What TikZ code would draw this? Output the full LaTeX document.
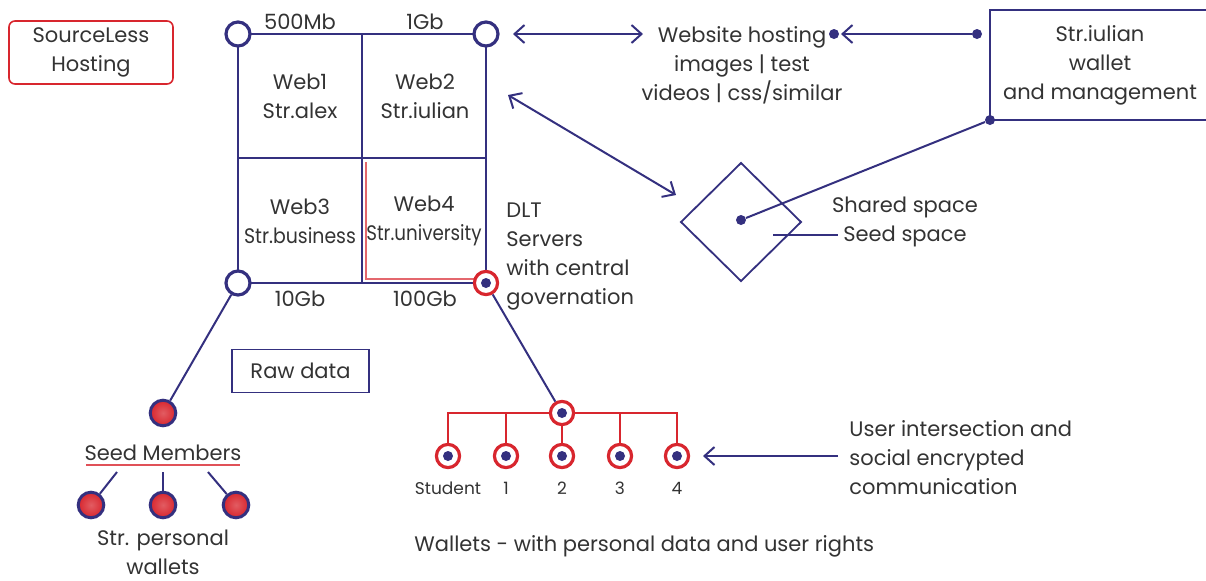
\documentclass[tikz,border=0pt]{standalone}
\usepackage{fontspec}
\setmainfont{Poppins}
\usetikzlibrary{arrows.meta}
\definecolor{navy}{HTML}{34307F}
\definecolor{lred}{HTML}{D8262E}
\definecolor{txt}{HTML}{333333}
\tikzset{
  x=0.5pt, y=-0.5pt,
  every node/.style={text=txt, font=\fontsize{10.5}{14.5}\selectfont, inner sep=0pt},
  ln/.style={draw=navy, line width=1pt},
  rln/.style={draw=lred, line width=0.9pt},
  corner/.style={circle, draw=navy, fill=white, line width=1.6pt, minimum size=12pt},
  wal/.style={circle, draw=lred, fill=white, line width=1.6pt, minimum size=11.6pt},
  dotc/.style={circle, fill=navy, minimum size=5pt},
  seed/.style={circle, draw=navy, line width=1.5pt, inner color=lred!75, outer color=lred, minimum size=12.8pt},
  tip/.style={-{Straight Barb[length=5pt,width=9pt]}},
  tips/.style={{Straight Barb[length=5pt,width=9pt]}-{Straight Barb[length=5pt,width=9pt]}},
  ptd/.style={circle, fill=navy, minimum size=5pt},
  lab/.style={align=center},
  small/.style={font=\fontsize{8.5}{10}\selectfont}
}
\begin{document}
\begin{tikzpicture}
\useasboundingbox (0,0) rectangle (1206,580);
% SourceLess box
\node[draw=lred, line width=0.8pt, rounded corners=3pt, minimum width=82pt, minimum height=31.5pt, align=center] (sl) at (91,52.5) {SourceLess\\Hosting};
% grid
\coordinate (tl) at (238,34);
\coordinate (tr) at (486,34);
\coordinate (bl) at (238,283);
\coordinate (br) at (486,283);
\draw[ln] (tl) rectangle (br);
\draw[ln] (362,34) -- (362,283);
\draw[ln] (238,158) -- (486,158);
\draw[lred!70, line width=0.7pt] (366,162) -- (366,279) -- (478,279);
\node[corner] (ctl) at (tl) {};
\node[corner] (ctr) at (tr) {};
\node[corner] (cbl) at (bl) {};
\node[wal] (cbr) at (br) {};
\node[dotc] at (br) {};
\node (l1) at (300,22) {500Mb};
\node (l2) at (425,22) {1Gb};
\node (l3) at (300,299) {10Gb};
\node (l4) at (425,299) {100Gb};
\node[lab] (w1) at (300,96) {Web1\\Str.alex};
\node[lab] (w2) at (425,96) {Web2\\Str.iulian};
\node[lab] (w3) at (300,221) {Web3\\\scalebox{0.9}[1]{Str.business}};
\node[lab] (w4) at (424,221) {Web4\\\scalebox{0.87}[1]{Str.university}};
\node[align=left, anchor=west] (dlt) at (506,256.5) {DLT\\Servers\\with central\\governation};
% website hosting
\node[lab] (web) at (742,65) {Website hosting\\images | test\\videos | css/similar};
\coordinate (wa1) at (513,34);
\coordinate (wa2) at (643,34);
\draw[ln, tips] (wa1) -- (wa2);
\node[ptd] (d1) at (834,34) {};
\node[ptd] (d2) at (977,34) {};
\draw[ln, tip] (d2) -- (841,34);
% wallet box
\draw[ln] (1212,10) -- (990,10) -- (990,120) -- (1212,120);
\node[lab] (iw) at (1100,65) {Str.iulian\\wallet\\and management};
\node[ptd] (d3) at (990,120) {};
% diamond
\draw[navy, line width=0.9pt] (741,163) -- (801,222) -- (741,281) -- (681,222) -- cycle;
\node[ptd] (d4) at (741,220) {};
\draw[ln] (d3) -- (d4);
\coordinate (da1) at (508,95);
\coordinate (da2) at (676,195);
\draw[ln, tips] (da1) -- (da2);
\draw[ln] (773,235) -- (838,235);
\node[lab] (ss) at (905,221.5) {Shared space\\Seed space};
% raw data
\node[draw=navy, line width=0.9pt, minimum width=68.5pt, minimum height=21.5pt] (raw) at (300.5,371) {Raw data};
% seed members
\node[seed] (s0) at (163,413) {};
\draw[ln] (cbl) -- (s0);
\node (sm) at (163,453) {Seed Members};
\draw[lred!80, line width=0.8pt] (86,465) -- (240,465);
\node[seed] (s1) at (91,505) {};
\node[seed] (s2) at (163,505) {};
\node[seed] (s3) at (236,505) {};
\draw[ln] (117,472) -- (s1);
\draw[ln] (163,472) -- (s2);
\draw[ln] (208,472) -- (s3);
\node[lab] (pw) at (163,552) {Str. personal\\wallets};
% wallets tree
\node[wal] (h) at (562,413) {};
\node[dotc] at (h) {};
\draw[ln] (cbr) -- (h);
\draw[rln] (448,444) -- (448,413) -- (h.west);
\draw[rln] (h.east) -- (677,413) -- (677,444);
\draw[rln] (506,413) -- (506,444);
\draw[rln] (620,413) -- (620,444);
\draw[rln] (h.south) -- (562,444);
\foreach \n/\x/\t in {a/448/Student, b/506/1, c/562/2, d/620/3, e/677/4}{
  \node[wal] (u\n) at (\x,456) {};
  \node[dotc] at (u\n) {};
  \node[small] (t\n) at (\x,488) {\t};
}
\coordinate (ua) at (838,456);
\coordinate (ub) at (703,456);
\draw[ln, tip] (ua) -- (ub);
\node[align=left, anchor=west] (ui) at (849,458) {User intersection and\\social encrypted\\communication};
\node[anchor=west] (wl) at (414,546) {Wallets - with personal data and user rights};
\end{tikzpicture}
\end{document}
